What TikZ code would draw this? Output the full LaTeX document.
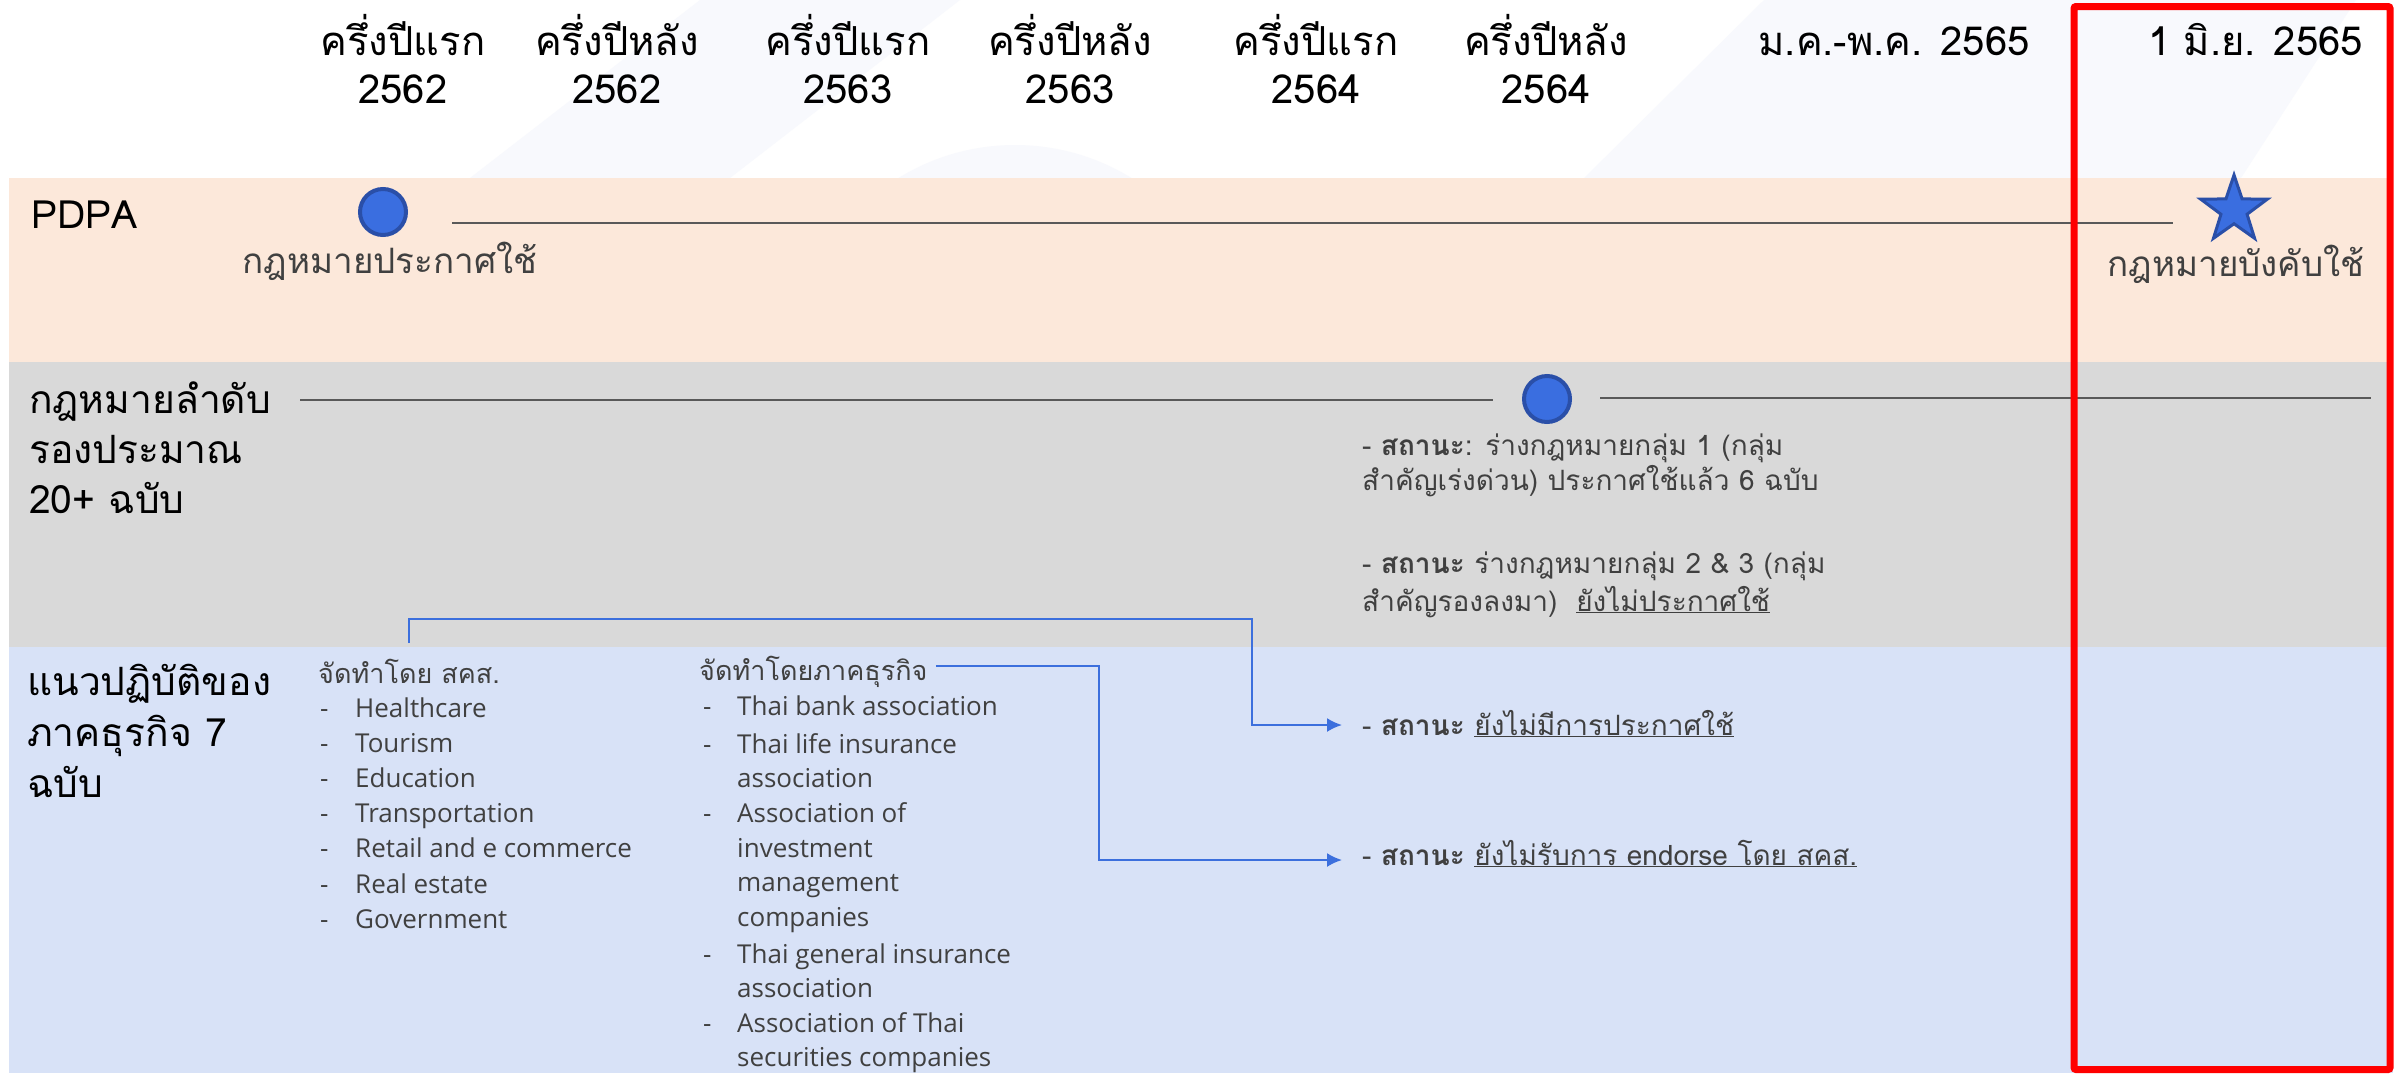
\documentclass[tikz,border=0pt]{standalone}
\usepackage{fontspec}
\usetikzlibrary{arrows.meta,shapes.geometric}
\setmainfont{Open Sans}
\newfontfamily\thai[Script=Thai]{Loma}
\newfontfamily\lat{Open Sans}
\definecolor{peach}{HTML}{FCE8DA}
\definecolor{bandgray}{HTML}{D9D9D9}
\definecolor{bandblue}{HTML}{D8E2F7}
\definecolor{txt}{HTML}{404040}
\definecolor{tlgray}{HTML}{595959}
\definecolor{cblue}{HTML}{3C6FDD}
\definecolor{dotfill}{HTML}{3A6EE0}
\definecolor{dotedge}{HTML}{2A4FA8}
\definecolor{boxred}{HTML}{FF0000}
\definecolor{wmark}{HTML}{F8F9FD}
\tikzset{
  hdr/.style={font=\thai\fontsize{40}{48}\selectfont, text=black, anchor=base, inner sep=0pt},
  ttl/.style={font=\thai\fontsize{39}{46}\selectfont, text=black, anchor=base west, inner sep=0pt},
  lbl/.style={font=\thai\fontsize{35}{40}\selectfont, text=txt, anchor=base, inner sep=0pt},
  st/.style={font=\thai\fontsize{28}{34}\selectfont, text=txt, anchor=base west, inner sep=0pt},
  lh/.style={font=\thai\fontsize{27}{32}\selectfont, text=txt, anchor=base west, inner sep=0pt},
  li/.style={font=\lat\fontsize{26}{32}\selectfont, text=txt, anchor=base west, inner sep=0pt},
  tline/.style={draw=tlgray, line width=2.5pt},
  conn/.style={draw=cblue, line width=2pt},
  dot/.style={circle, fill=dotfill, draw=dotedge, line width=4pt, minimum size=46pt, inner sep=0pt},
}
\begin{document}
\begin{tikzpicture}[x=1pt,y=-1pt]
\useasboundingbox (0,0) rectangle (2400,1074);
\fill[white] (0,0) rectangle (2400,1074);
% faint watermark
\begin{scope}
\clip (0,0) rectangle (2400,1074);
\fill[wmark] (470,178) -- (700,0) -- (960,0) -- (730,178) -- cycle;
\fill[wmark] (1015,367) circle[radius=222];
\fill[wmark] (1584,178) -- (1764,0) -- (2356,0) -- (2241,178) -- cycle;
\end{scope}
% bands
\fill[peach] (9,178) rectangle (2393,362);
\fill[bandgray] (9,362) rectangle (2393,647);
\fill[bandblue] (9,647) rectangle (2393,1073);
% header
\node[hdr] (h1a) at (403,55) {ครึ่งปีแรก};
\node[hdr] (h1b) at (403,103) {2562};
\node[hdr] (h2a) at (617,55) {ครึ่งปีหลัง};
\node[hdr] (h2b) at (617,103) {2562};
\node[hdr] (h3a) at (848,55) {ครึ่งปีแรก};
\node[hdr] (h3b) at (848,103) {2563};
\node[hdr] (h4a) at (1070,55) {ครึ่งปีหลัง};
\node[hdr] (h4b) at (1070,103) {2563};
\node[hdr] (h5a) at (1316,55) {ครึ่งปีแรก};
\node[hdr] (h5b) at (1316,103) {2564};
\node[hdr] (h6a) at (1546,55) {ครึ่งปีหลัง};
\node[hdr] (h6b) at (1546,103) {2564};
\node[hdr] (h7) at (1894,55) {ม.ค.-พ.ค. 2565};
\node[hdr, anchor=base east] (h8) at (2363,55) {1 มิ.ย. 2565};
% PDPA row
\node[ttl] (pdpa) at (31,228) {PDPA};
\node[dot] (p1) at (383,212) {};
\node[star, star points=5, star point ratio=2.55, fill=dotfill, draw=dotedge, line width=3pt, minimum size=70pt, inner sep=0pt] (p2) at (2234,210) {};
\coordinate (l1a) at (452,223);
\coordinate (l1b) at (2173,223);
\draw[tline] (l1a) -- (l1b);
\node[lbl] (p1l) at (390,273) {กฎหมายประกาศใช้};
\node[lbl] (p2l) at (2236,276) {กฎหมายบังคับใช้};
% secondary laws row
\node[ttl] (g1) at (29,413) {กฎหมายลำดับ};
\node[ttl] (g2) at (29,463) {รองประมาณ};
\node[ttl] (g3) at (29,513) {20+ ฉบับ};
\node[dot] (q1) at (1547,399) {};
\coordinate (l2a) at (300,400);
\coordinate (l2b) at (1493,400);
\coordinate (l2c) at (1600,398);
\coordinate (l2d) at (2371,398);
\draw[tline] (l2a) -- (l2b);
\draw[tline] (l2c) -- (l2d);
\node[st] (s1a) at (1362,455) {- \textbf{สถานะ}: ร่างกฎหมายกลุ่ม 1 (กลุ่ม};
\node[st] (s1b) at (1362,490) {สำคัญเร่งด่วน) ประกาศใช้แล้ว 6 ฉบับ};
\node[st] (s2a) at (1362,573) {- \textbf{สถานะ} ร่างกฎหมายกลุ่ม 2 \& 3 (กลุ่ม};
\node[st] (s2b) at (1362,611) {สำคัญรองลงมา)~ \underline{ยังไม่ประกาศใช้}};
% guidelines row
\node[ttl] (b1) at (27,695) {แนวปฏิบัติของ};
\node[ttl] (b2) at (27,746) {ภาคธุรกิจ 7};
\node[ttl] (b3) at (27,797) {ฉบับ};
\node[lh] (c1h) at (318,683) {จัดทำโดย สคส.};
\foreach \t [count=\i] in {Healthcare,Tourism,Education,Transportation,Retail and e commerce,Real estate,Government}{
  \pgfmathsetmacro{\yy}{717+35.2*(\i-1)}
  \node[li] (c1d\i) at (320,\yy) {-};
  \node[li] (c1t\i) at (355,\yy) {\t};
}
\node[lh] (c2h) at (699,680) {จัดทำโดยภาคธุรกิจ};
\foreach \y/\t [count=\i] in {715/Thai bank association,753/Thai life insurance,787/association,822/Association of,857/investment,891/management,926/companies,963/Thai general insurance,997/association,1032/Association of Thai,1066/securities companies}{
  \node[li] (c2t\i) at (737,\y) {\t};
}
\foreach \y/\j in {715/1,753/2,822/3,963/4,1032/5}{
  \node[li] (c2d\j) at (703,\y) {-};
}
\node[st] (s3) at (1362,735) {- \textbf{สถานะ} \underline{ยังไม่มีการประกาศใช้}};
\node[st] (s4) at (1362,865) {- \textbf{สถานะ} \underline{ยังไม่รับการ endorse โดย สคส.}};
% connectors
\coordinate (k1) at (1252,619);
\coordinate (t1) at (1342,725);
\coordinate (k2) at (1099,666);
\coordinate (t2) at (1342,860);
\draw[conn,-{Latex[length=15pt,width=14pt]}] (c1h.north |- 0,643) |- (k1) |- (t1);
\draw[conn,-{Latex[length=15pt,width=14pt]}] ([xshift=8pt]c2h.east |- k2) -- (k2) |- (t2);
% highlight box
\draw[boxred, line width=7pt, rounded corners=2pt] (2074,6.5) rectangle (2390,1069.5);
\end{tikzpicture}
\end{document}
